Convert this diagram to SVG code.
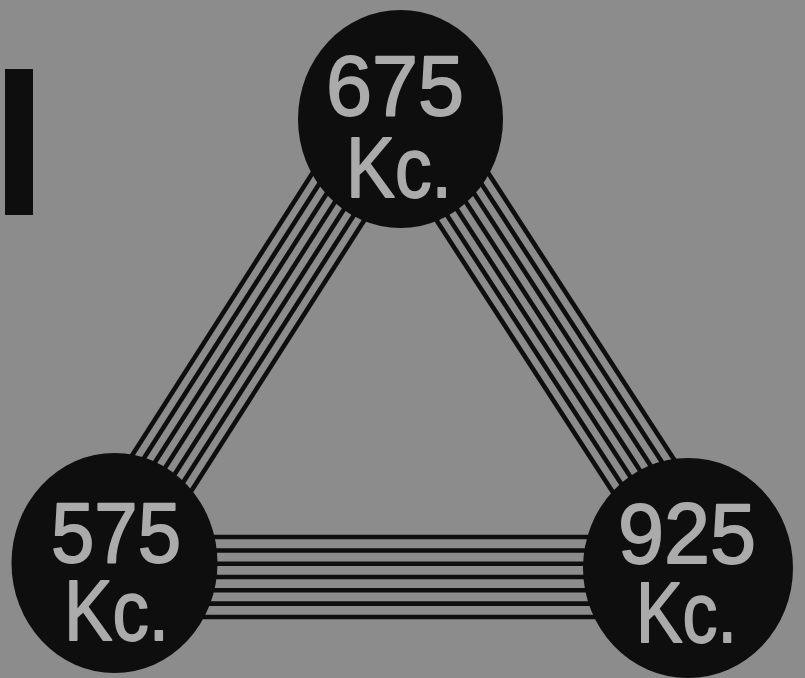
<svg xmlns="http://www.w3.org/2000/svg" width="805" height="678" viewBox="0 0 805 678">
<style>
.bg{fill:#8c8c8c}
.bar{fill:#0e0e0e}
.wire{stroke:#0e0e0e;stroke-width:4.6;fill:none;stroke-linecap:butt}
.disc{fill:#0e0e0e}
.lbl{fill:#ababab;stroke:#ababab;stroke-width:1.8;stroke-linejoin:round;font-family:"Liberation Sans",Arial,sans-serif;font-size:86px}
</style>
<rect class="bg" x="0" y="0" width="805" height="678"/>
<rect class="bar" x="5" y="69" width="28" height="146"/>
<g id="connectors">
<g id="link-575-675">
<line class="wire" x1="132.1" y1="583.6" x2="417.1" y2="137.6"/>
<line class="wire" x1="122.4" y1="577.4" x2="407.4" y2="131.4"/>
<line class="wire" x1="112.7" y1="571.2" x2="397.7" y2="125.2"/>
<line class="wire" x1="103" y1="565" x2="388" y2="119"/>
<line class="wire" x1="93.3" y1="558.8" x2="378.3" y2="112.8"/>
<line class="wire" x1="83.6" y1="552.6" x2="368.6" y2="106.6"/>
<line class="wire" x1="73.9" y1="546.4" x2="358.9" y2="100.4"/>
</g>
<g id="link-675-925">
<line class="wire" x1="383" y1="137.8" x2="671" y2="581.8"/>
<line class="wire" x1="392.7" y1="131.5" x2="680.7" y2="575.5"/>
<line class="wire" x1="402.4" y1="125.3" x2="690.4" y2="569.3"/>
<line class="wire" x1="412" y1="119" x2="700" y2="563"/>
<line class="wire" x1="421.7" y1="112.7" x2="709.7" y2="556.7"/>
<line class="wire" x1="431.3" y1="106.5" x2="719.3" y2="550.5"/>
<line class="wire" x1="441" y1="100.2" x2="729" y2="544.2"/>
</g>
<g id="link-575-925">
<line class="wire" x1="115" y1="537" x2="688" y2="537"/>
<line class="wire" x1="115" y1="550.5" x2="688" y2="550.5"/>
<line class="wire" x1="115" y1="563.8" x2="688" y2="563.8"/>
<line class="wire" x1="115" y1="577" x2="688" y2="577"/>
<line class="wire" x1="115" y1="590.3" x2="688" y2="590.3"/>
<line class="wire" x1="115" y1="603.6" x2="688" y2="603.6"/>
<line class="wire" x1="115" y1="617" x2="688" y2="617"/>
</g>
</g>
<g id="node-675">
<ellipse class="disc" cx="400.5" cy="119" rx="102.5" ry="109"/>
<text class="lbl" x="326" y="115" textLength="138" lengthAdjust="spacingAndGlyphs">675</text>
<text class="lbl" x="346" y="197" textLength="106" lengthAdjust="spacingAndGlyphs">Kc.</text>
</g>
<g id="node-575">
<ellipse class="disc" cx="114.5" cy="563" rx="103" ry="110"/>
<text class="lbl" x="51" y="562" textLength="130" lengthAdjust="spacingAndGlyphs">575</text>
<text class="lbl" x="64" y="640" textLength="105" lengthAdjust="spacingAndGlyphs">Kc.</text>
</g>
<g id="node-925">
<ellipse class="disc" cx="688" cy="568" rx="105" ry="110"/>
<text class="lbl" x="618" y="563" textLength="138" lengthAdjust="spacingAndGlyphs">925</text>
<text class="lbl" x="636" y="642" textLength="101" lengthAdjust="spacingAndGlyphs">Kc.</text>
</g>
</svg>
